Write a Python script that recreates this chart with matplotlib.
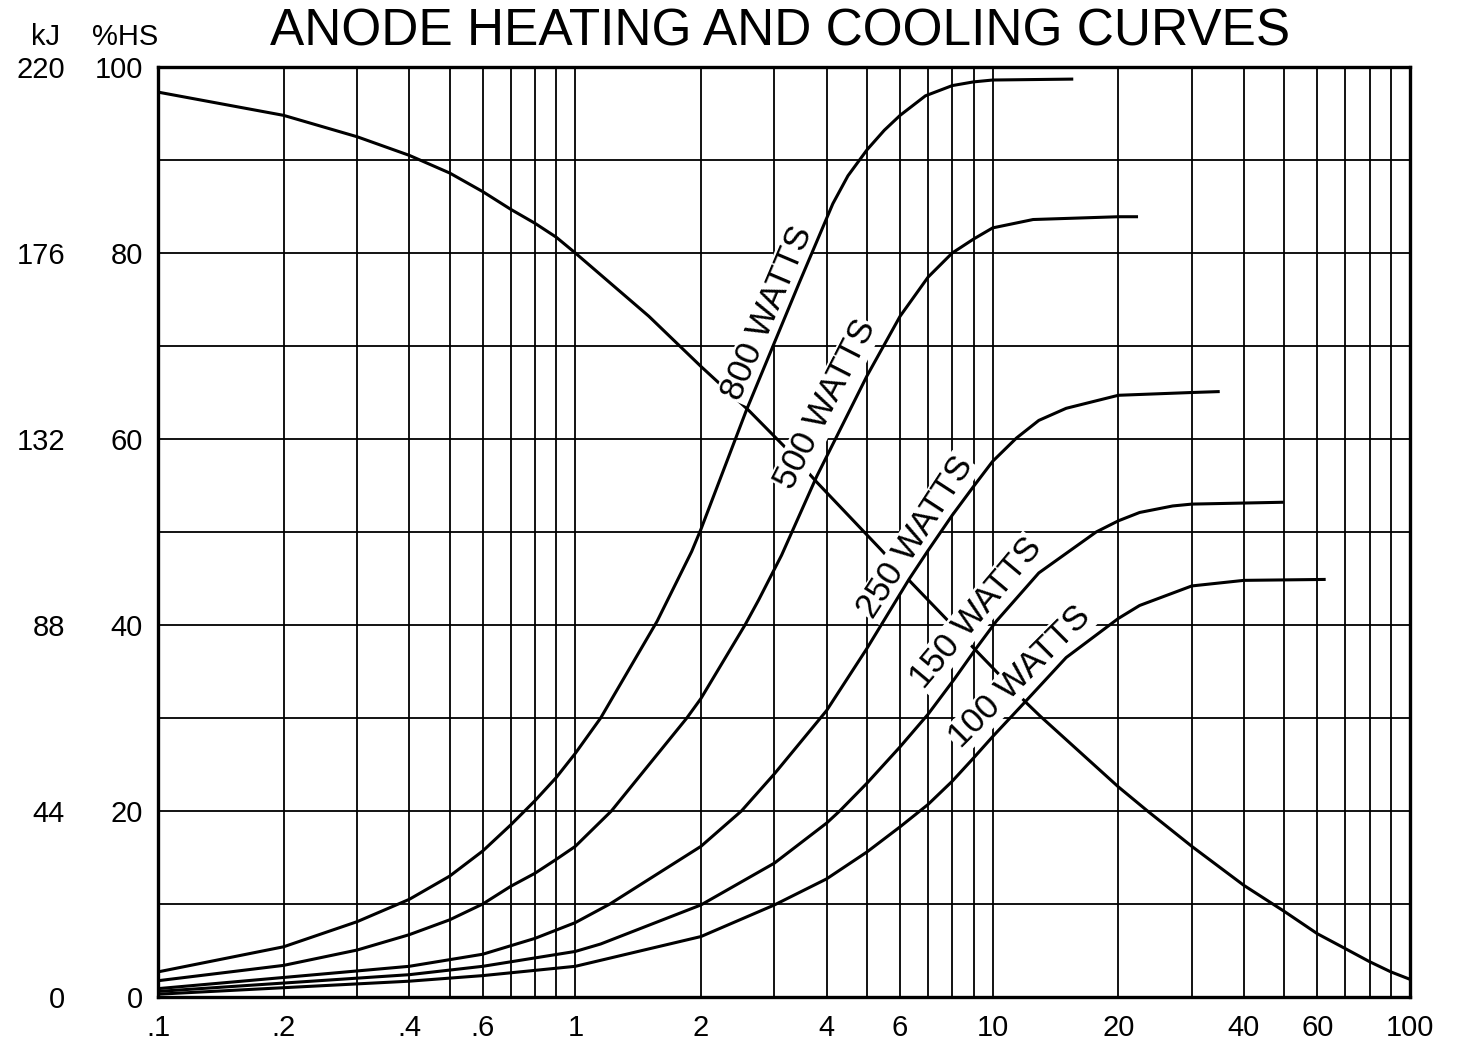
import matplotlib
matplotlib.use("Agg")
import matplotlib.pyplot as plt
import matplotlib.ticker as mticker
import numpy as np

plt.rcParams['font.family'] = ['Liberation Sans', 'DejaVu Sans']

# time in minutes (log axis) vs anode heat storage (%HS)
cool_t = [0.1, 0.2, 0.3, 0.4, 0.5, 0.6, 0.7, 0.8, 0.9, 1.0, 1.5, 2.0, 2.6, 3.2, 3.8,
          5.4, 6.4, 7.8, 9.1, 10, 12, 13, 20, 23.5, 30, 40, 50, 60, 70, 80, 90, 100]
cool_hs = [97.3, 94.8, 92.5, 90.5, 88.6, 86.6, 84.7, 83.2, 81.7, 80.0, 73.2, 67.8, 63.1, 59.0, 55.3,
           48.1, 44.5, 40.5, 37.3, 35.4, 31.7, 30.2, 22.6, 20.0, 16.2, 12.0, 9.2, 6.8, 5.2, 3.8, 2.7, 1.9]

t_800 = [0.1, 0.2, 0.3, 0.4, 0.5, 0.6, 0.7, 0.8, 0.9, 1.0, 1.15, 1.57, 1.9, 2.0, 2.57, 2.97,
         3.44, 4.14, 4.5, 5, 5.5, 6, 6.9, 8, 9, 10, 15.6]
hs_800 = [2.7, 5.4, 8.1, 10.5, 13.0, 15.7, 18.5, 21.1, 23.6, 26.2, 30.0, 40.4, 47.9, 50.3, 63.1, 69.9,
          76.8, 85.3, 88.3, 91.1, 93.2, 94.8, 96.9, 98.0, 98.4, 98.6, 98.7]

t_500 = [0.1, 0.2, 0.3, 0.4, 0.5, 0.6, 0.7, 0.8, 0.9, 1.0, 1.22, 1.85, 2.0, 2.55, 2.75, 3.12,
         3.79, 5.0, 6.0, 7.0, 8.0, 9.0, 10, 12.5, 20, 22.3]
hs_500 = [1.75, 3.4, 5.05, 6.7, 8.3, 10.0, 11.9, 13.3, 14.8, 16.2, 20.0, 30.0, 32.1, 40.0, 42.7, 47.5,
          56.0, 66.8, 73.2, 77.4, 80.0, 81.5, 82.7, 83.6, 83.9, 83.9]

t_250 = [0.1, 0.2, 0.4, 0.6, 0.8, 1.0, 1.21, 2.0, 2.5, 3.0, 4.0, 5.0, 5.44, 6.3, 7.0, 8.0,
         9.0, 10, 11.4, 12.9, 15, 20, 30, 35]
hs_250 = [0.9, 2.1, 3.3, 4.6, 6.3, 8.0, 10.0, 16.2, 20.0, 24.0, 30.8, 37.5, 40.2, 44.9, 48.0, 51.8,
          54.9, 57.6, 60.1, 62.0, 63.3, 64.7, 65.0, 65.1]

t_150 = [0.1, 0.2, 0.4, 0.6, 1.0, 1.15, 2.0, 3.0, 4.0, 4.3, 5.0, 6.0, 7.0, 8.1, 9.1, 10.2,
         12.9, 17.7, 20, 22.5, 27, 30, 49.8]
hs_150 = [0.6, 1.5, 2.4, 3.3, 4.9, 5.7, 9.9, 14.4, 18.7, 20.0, 23.0, 26.9, 30.4, 34.2, 37.4, 40.4,
          45.6, 50.0, 51.2, 52.1, 52.8, 53.0, 53.2]

t_100 = [0.1, 0.2, 0.4, 0.6, 1.0, 2.0, 3.0, 4.0, 5.0, 6.0, 7.0, 8.0, 9.0, 10, 12, 15,
         20, 22.5, 30, 40, 62.8]
hs_100 = [0.3, 1.0, 1.7, 2.3, 3.3, 6.5, 9.9, 12.7, 15.6, 18.3, 20.7, 23.2, 25.7, 28.0, 31.8, 36.5,
          40.7, 42.1, 44.2, 44.8, 44.9]

heating = [(t_800, hs_800), (t_500, hs_500), (t_250, hs_250), (t_150, hs_150), (t_100, hs_100)]

# curve labels: text, anchor time, anchor %HS, angle
label_text = ['800 WATTS', '500 WATTS', '250 WATTS', '150 WATTS', '100 WATTS']
label_t = [2.88, 3.98, 6.55, 9.12, 11.63]
label_hs = [73.5, 63.7, 49.4, 41.3, 34.4]
label_rot = [67, 63, 57, 50, 45]

xtick_vals = [0.1, 0.2, 0.4, 0.6, 1, 2, 4, 6, 10, 20, 40, 60, 100]
xtick_labels = ['.1', '.2', '.4', '.6', '1', '2', '4', '6', '10', '20', '40', '60', '100']
hs_ticks = [0, 20, 40, 60, 80, 100]
kj_ticks = [0, 44, 88, 132, 176, 220]

fig = plt.figure(figsize=(14.67, 10.6), dpi=100)
ax = fig.add_axes([158 / 1467, 1 - 997 / 1060, 1252 / 1467, 930 / 1060])

ax.set_xscale('log')
ax.set_xlim(0.1, 100)
ax.set_ylim(0, 100)

ax.xaxis.set_major_locator(mticker.FixedLocator(xtick_vals))
ax.xaxis.set_major_formatter(mticker.FixedFormatter(xtick_labels))
ax.xaxis.set_minor_locator(mticker.LogLocator(subs=np.arange(2, 10), numticks=20))
ax.xaxis.set_minor_formatter(mticker.NullFormatter())
ax.yaxis.set_major_locator(mticker.FixedLocator(hs_ticks))
ax.yaxis.set_minor_locator(mticker.MultipleLocator(10))

ax.set_axisbelow(True)
ax.grid(which='both', color='black', linewidth=1.3)
ax.tick_params(which='both', length=0, labelsize=21)
ax.tick_params(axis='y', pad=11)
ax.tick_params(axis='x', pad=12)
for s in ax.spines.values():
    s.set_linewidth(2.4)
    s.set_zorder(6)

# kJ scale on the far left (1 %HS = 2.2 kJ)
sec = ax.secondary_yaxis(-0.062, functions=(lambda y: y * 2.2, lambda k: k / 2.2))
sec.set_yticks(kj_ticks)
sec.tick_params(length=0, pad=11, labelsize=21)
for s in sec.spines.values():
    s.set_visible(False)

# cooling curve
ax.plot(cool_t, cool_hs, color='black', linewidth=2.2, zorder=2)

# labels break the cooling curve and grid like in the print
for txt, lt, lh, rot in zip(label_text, label_t, label_hs, label_rot):
    ax.text(lt, lh, txt, rotation=rot, ha='center', va='center', fontsize=25,
            zorder=3, bbox=dict(facecolor='white', edgecolor='none', pad=0.5))

for t, hs in heating:
    ax.plot(t, hs, color='black', linewidth=2.2, zorder=4, solid_capstyle='butt')

fig.text(46 / 1467, 1 - 45 / 1060, 'kJ', ha='center', va='baseline', fontsize=21)
fig.text(125 / 1467, 1 - 45 / 1060, '%HS', ha='center', va='baseline', fontsize=21)
fig.text(780 / 1467, 1 - 46 / 1060, 'ANODE HEATING AND COOLING CURVES',
         ha='center', va='baseline', fontsize=37)

fig.savefig('out.png', dpi=100, facecolor='white')
